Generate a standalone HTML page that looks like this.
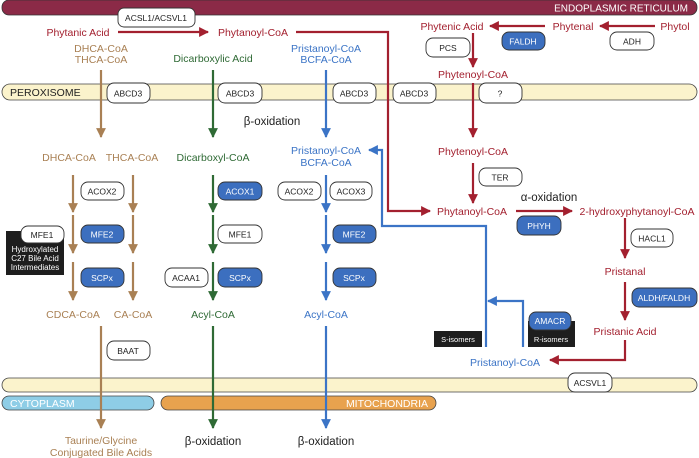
<!DOCTYPE html>
<html><head><meta charset="utf-8"><style>
html,body{margin:0;padding:0;background:#fff;}
svg{display:block;font-family:"Liberation Sans",sans-serif;}
</style></head><body>
<svg width="699" height="458" viewBox="0 0 699 458" xmlns="http://www.w3.org/2000/svg">
<defs>
<marker id="ar" viewBox="0 0 10 10" refX="9" refY="5" markerWidth="4.5" markerHeight="4.5" orient="auto"><path d="M0,0L10,5L0,10z" fill="#a3202f"/></marker>
<marker id="ab" viewBox="0 0 10 10" refX="9" refY="5" markerWidth="4.5" markerHeight="4.5" orient="auto"><path d="M0,0L10,5L0,10z" fill="#a98054"/></marker>
<marker id="ag" viewBox="0 0 10 10" refX="9" refY="5" markerWidth="4.5" markerHeight="4.5" orient="auto"><path d="M0,0L10,5L0,10z" fill="#2f6a35"/></marker>
<marker id="al" viewBox="0 0 10 10" refX="9" refY="5" markerWidth="4.5" markerHeight="4.5" orient="auto"><path d="M0,0L10,5L0,10z" fill="#3b74c6"/></marker>
</defs>
<rect x="2" y="0" width="695" height="15" rx="7" fill="#8b2a47" stroke="#333" stroke-width="0.8"/>
<text x="688" y="11.5" font-size="10" fill="#fff" text-anchor="end">ENDOPLASMIC RETICULUM</text>
<rect x="2" y="84" width="695" height="16" rx="8" fill="#fbf3cc" stroke="#444" stroke-width="0.8"/>
<text x="10" y="96" font-size="10.5" fill="#222">PEROXISOME</text>
<rect x="2" y="378" width="695" height="14" rx="7" fill="#fbf3cc" stroke="#444" stroke-width="0.8"/>
<rect x="2" y="396" width="152" height="14" rx="7" fill="#8ecde6" stroke="#444" stroke-width="0.8"/>
<text x="10" y="407" font-size="10.5" fill="#fff">CYTOPLASM</text>
<rect x="161" y="396" width="275" height="14" rx="7" fill="#e8a24e" stroke="#444" stroke-width="0.8"/>
<text x="428" y="407" font-size="10.5" fill="#fff" text-anchor="end">MITOCHONDRIA</text>

<g fill="none" stroke-width="2.2">
<line x1="118" y1="32" x2="208" y2="32" stroke="#a3202f" marker-end="url(#ar)"/>
<polyline points="296,32 388,32 388,211 430,211" stroke="#a3202f" marker-end="url(#ar)"/>
<line x1="545" y1="26" x2="490" y2="26" stroke="#a3202f" marker-end="url(#ar)"/>
<line x1="655" y1="26" x2="600" y2="26" stroke="#a3202f" marker-end="url(#ar)"/>
<line x1="473" y1="33" x2="473" y2="67" stroke="#a3202f" marker-end="url(#ar)"/>
<line x1="473" y1="83" x2="473" y2="137" stroke="#a3202f" marker-end="url(#ar)"/>
<line x1="473" y1="163" x2="473" y2="203" stroke="#a3202f" marker-end="url(#ar)"/>
<line x1="516" y1="211" x2="572" y2="211" stroke="#a3202f" marker-end="url(#ar)"/>
<line x1="625" y1="218" x2="625" y2="258" stroke="#a3202f" marker-end="url(#ar)"/>
<line x1="625" y1="282" x2="625" y2="320" stroke="#a3202f" marker-end="url(#ar)"/>
<polyline points="625,340 625,360 550,360" stroke="#a3202f" marker-end="url(#ar)"/>
<line x1="101" y1="70" x2="101" y2="137" stroke="#a98054" marker-end="url(#ab)"/>
<line x1="73" y1="175" x2="73" y2="212" stroke="#a98054" marker-end="url(#ab)"/>
<line x1="133" y1="175" x2="133" y2="212" stroke="#a98054" marker-end="url(#ab)"/>
<line x1="73" y1="262" x2="73" y2="300" stroke="#a98054" marker-end="url(#ab)"/>
<line x1="133" y1="262" x2="133" y2="300" stroke="#a98054" marker-end="url(#ab)"/>
<line x1="73" y1="215" x2="73" y2="253" stroke="#a98054" marker-end="url(#ab)"/>
<line x1="133" y1="215" x2="133" y2="253" stroke="#a98054" marker-end="url(#ab)"/>
<line x1="101" y1="326" x2="101" y2="428" stroke="#a98054" marker-end="url(#ab)"/>
<line x1="213" y1="70" x2="213" y2="137" stroke="#2f6a35" marker-end="url(#ag)"/>
<line x1="213" y1="175" x2="213" y2="212" stroke="#2f6a35" marker-end="url(#ag)"/>
<line x1="213" y1="215" x2="213" y2="253" stroke="#2f6a35" marker-end="url(#ag)"/>
<line x1="213" y1="262" x2="213" y2="300" stroke="#2f6a35" marker-end="url(#ag)"/>
<line x1="213" y1="326" x2="213" y2="428" stroke="#2f6a35" marker-end="url(#ag)"/>
<line x1="326" y1="70" x2="326" y2="137" stroke="#3b74c6" marker-end="url(#al)"/>
<line x1="326" y1="175" x2="326" y2="212" stroke="#3b74c6" marker-end="url(#al)"/>
<line x1="326" y1="215" x2="326" y2="253" stroke="#3b74c6" marker-end="url(#al)"/>
<line x1="326" y1="262" x2="326" y2="300" stroke="#3b74c6" marker-end="url(#al)"/>
<line x1="326" y1="326" x2="326" y2="428" stroke="#3b74c6" marker-end="url(#al)"/>
<polyline points="486,347 486,226 382,226 382,150 369,150" stroke="#3b74c6" marker-end="url(#al)"/>
<polyline points="523,347 523,301 488,301" stroke="#3b74c6" marker-end="url(#al)"/>
</g>

<g fill="#fff" stroke="#333" stroke-width="0.9">
<rect x="118" y="8" width="77" height="19" rx="6"/>
<rect x="107" y="83" width="43" height="20" rx="7"/>
<rect x="218" y="83" width="44" height="20" rx="7"/>
<rect x="333" y="83" width="43" height="20" rx="7"/>
<rect x="393" y="83" width="43" height="20" rx="7"/>
<rect x="479" y="83" width="43" height="20" rx="7"/>
<rect x="426" y="38" width="44" height="19" rx="7"/>
<rect x="610" y="32" width="44" height="18" rx="7"/>
<rect x="479" y="168" width="43" height="18" rx="7"/>
<rect x="81" y="182" width="43" height="18" rx="7"/>
<rect x="278" y="182" width="43" height="18" rx="7"/>
<rect x="330" y="182" width="42" height="18" rx="7"/>
<rect x="218" y="225" width="44" height="18" rx="7"/>
<rect x="165" y="268" width="43" height="19" rx="7"/>
<rect x="107" y="341" width="43" height="19" rx="7"/>
<rect x="631" y="229" width="42" height="18" rx="7"/>
<rect x="568" y="373" width="44" height="19" rx="7"/>
</g>
<rect x="6" y="231" width="58" height="44" fill="#1e1e1e"/>
<rect x="434" y="331" width="48" height="16" fill="#1e1e1e"/>
<rect x="528" y="321" width="47" height="26" fill="#1e1e1e"/>
<rect x="21" y="226" width="43" height="17" rx="7" fill="#fff" stroke="#333" stroke-width="0.9"/>
<g fill="#3c6fbf" stroke="#333" stroke-width="0.9">
<rect x="502" y="32" width="43" height="18" rx="7"/>
<rect x="218" y="182" width="44" height="18" rx="7"/>
<rect x="81" y="225" width="43" height="18" rx="7"/>
<rect x="333" y="225" width="43" height="18" rx="7"/>
<rect x="81" y="268" width="43" height="19" rx="7"/>
<rect x="218" y="268" width="44" height="19" rx="7"/>
<rect x="333" y="268" width="43" height="19" rx="7"/>
<rect x="517" y="216" width="44" height="19" rx="7"/>
<rect x="529" y="312" width="42" height="18" rx="7"/>
<rect x="632" y="288" width="65" height="19" rx="7"/>
</g>

<g font-size="8.5" fill="#222" text-anchor="middle">
<text x="156" y="21">ACSL1/ACSVL1</text>
<text x="128" y="96.5">ABCD3</text>
<text x="240" y="96.5">ABCD3</text>
<text x="354" y="96.5">ABCD3</text>
<text x="414" y="96.5">ABCD3</text>
<text x="500" y="96.5">?</text>
<text x="448" y="51">PCS</text>
<text x="632" y="44.5">ADH</text>
<text x="500" y="180.5">TER</text>
<text x="102" y="194.5">ACOX2</text>
<text x="299" y="194.5">ACOX2</text>
<text x="351" y="194.5">ACOX3</text>
<text x="42" y="238">MFE1</text>
<text x="240" y="237.5">MFE1</text>
<text x="186" y="281">ACAA1</text>
<text x="128" y="354">BAAT</text>
<text x="652" y="241.5">HACL1</text>
<text x="590" y="386">ACSVL1</text>
</g>
<g font-size="8.5" fill="#fff" text-anchor="middle">
<text x="523" y="44.5">FALDH</text>
<text x="240" y="194.5">ACOX1</text>
<text x="102" y="237.5">MFE2</text>
<text x="354" y="237.5">MFE2</text>
<text x="102" y="281">SCPx</text>
<text x="240" y="281">SCPx</text>
<text x="354" y="281">SCPx</text>
<text x="539" y="229">PHYH</text>
<text x="550" y="324">AMACR</text>
<text x="664" y="301">ALDH/FALDH</text>
<text x="35" y="252" font-size="8">Hydroxylated</text>
<text x="35" y="261" font-size="8">C27 Bile Acid</text>
<text x="35" y="270" font-size="8">Intermediates</text>
<text x="458" y="342" font-size="7.5">S-isomers</text>
<text x="551" y="342" font-size="7.5">R-isomers</text>
</g>

<g font-size="10.5" text-anchor="middle">
<g fill="#a3202f">
<text x="78" y="36">Phytanic Acid</text>
<text x="253" y="36">Phytanoyl-CoA</text>
<text x="452" y="30">Phytenic Acid</text>
<text x="573" y="30">Phytenal</text>
<text x="675" y="30">Phytol</text>
<text x="473" y="78">Phytenoyl-CoA</text>
<text x="473" y="155">Phytenoyl-CoA</text>
<text x="472" y="215">Phytanoyl-CoA</text>
<text x="637" y="215">2-hydroxyphytanoyl-CoA</text>
<text x="625" y="275">Pristanal</text>
<text x="625" y="335">Pristanic Acid</text>
</g>
<g fill="#a98054">
<text x="101" y="52">DHCA-CoA</text>
<text x="101" y="63">THCA-CoA</text>
<text x="69" y="161">DHCA-CoA</text>
<text x="132" y="161">THCA-CoA</text>
<text x="73" y="318">CDCA-CoA</text>
<text x="133" y="318">CA-CoA</text>
<text x="101" y="444">Taurine/Glycine</text>
<text x="101" y="456">Conjugated Bile Acids</text>
</g>
<g fill="#2f6a35">
<text x="213" y="62">Dicarboxylic Acid</text>
<text x="213" y="161">Dicarboxyl-CoA</text>
<text x="213" y="318">Acyl-CoA</text>
</g>
<g fill="#3b74c6">
<text x="326" y="52">Pristanoyl-CoA</text>
<text x="326" y="63">BCFA-CoA</text>
<text x="326" y="154">Pristanoyl-CoA</text>
<text x="326" y="166">BCFA-CoA</text>
<text x="326" y="318">Acyl-CoA</text>
<text x="505" y="366">Pristanoyl-CoA</text>
</g>
<g fill="#222" font-size="11.5">
<text x="272" y="125">β-oxidation</text>
<text x="549" y="201">α-oxidation</text>
<text x="213" y="445">β-oxidation</text>
<text x="326" y="445">β-oxidation</text>
</g>
</g>
</svg>
</body></html>
